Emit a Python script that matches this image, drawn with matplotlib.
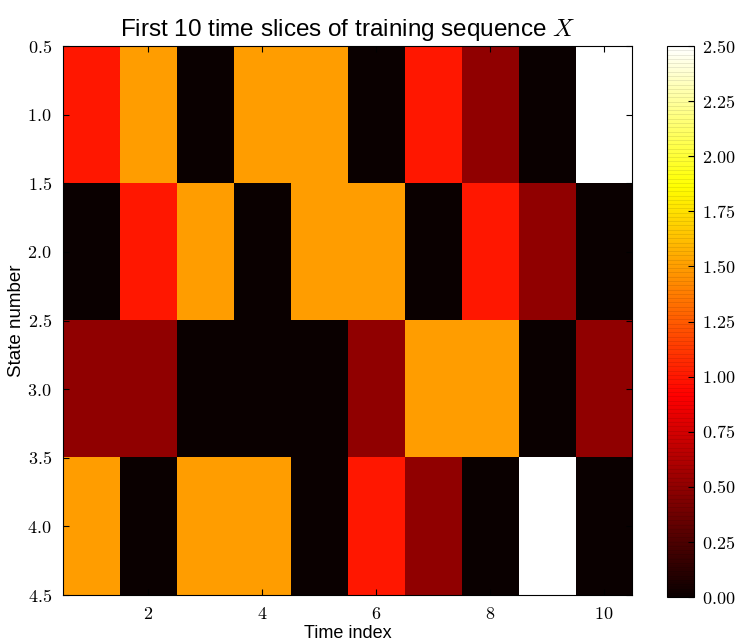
import numpy as np
import matplotlib
matplotlib.use("Agg")
import matplotlib.pyplot as plt
from matplotlib.ticker import FuncFormatter, MultipleLocator

plt.rcParams['font.family'] = ['Liberation Sans', 'DejaVu Sans']
plt.rcParams['mathtext.fontset'] = 'cm'

# observed states for the first 10 time slices (rows = states 1..4)
time_index = np.arange(1, 11)
state_1 = [1.0, 1.5, 0.0, 1.5, 1.5, 0.0, 1.0, 0.5, 0.0, 2.5]
state_2 = [0.0, 1.0, 1.5, 0.0, 1.5, 1.5, 0.0, 1.0, 0.5, 0.0]
state_3 = [0.5, 0.5, 0.0, 0.0, 0.0, 0.5, 1.5, 1.5, 0.0, 0.5]
state_4 = [1.5, 0.0, 1.5, 1.5, 0.0, 1.0, 0.5, 0.0, 2.5, 0.0]
X = np.array([state_1, state_2, state_3, state_4])

fig = plt.figure(figsize=(7.35, 6.4), dpi=100)
ax = fig.add_axes([0.0857, 0.0703, 0.7743, 0.8578])
cax = fig.add_axes([0.9075, 0.067, 0.0367, 0.8610])

im = ax.imshow(X, cmap='hot', vmin=0, vmax=2.5, interpolation='nearest',
               aspect='auto', extent=[0.5, 10.5, 4.5, 0.5])

ax.set_title('First 10 time slices of training sequence $X$', fontsize=17.5, pad=7)
ax.set_xlabel('Time index', fontsize=13, labelpad=1)
ax.set_ylabel('State number', fontsize=13.5, labelpad=2)

math_fmt1 = FuncFormatter(lambda v, p: r'$%g$' % v)
math_fmt2 = FuncFormatter(lambda v, p: r'$%.1f$' % v)
ax.xaxis.set_major_locator(MultipleLocator(2))
ax.yaxis.set_major_locator(MultipleLocator(0.5))
ax.xaxis.set_major_formatter(math_fmt1)
ax.yaxis.set_major_formatter(math_fmt2)
ax.tick_params(direction='in', top=True, right=True, length=4, labelsize=13,
               pad=8)

cbar = fig.colorbar(im, cax=cax)
cbar.set_ticks(np.arange(0, 2.51, 0.25))
cbar.ax.yaxis.set_major_formatter(FuncFormatter(lambda v, p: r'$%.2f$' % v))
cbar.ax.tick_params(direction='in', length=4, labelsize=13, pad=6)
# faint banding across the colour bar
cbar.ax.hlines(np.linspace(0, 2.5, 130), 0, 1, colors='k', linewidth=0.5,
               alpha=0.12, transform=cbar.ax.get_yaxis_transform())

fig.savefig('out.png', dpi=100)
